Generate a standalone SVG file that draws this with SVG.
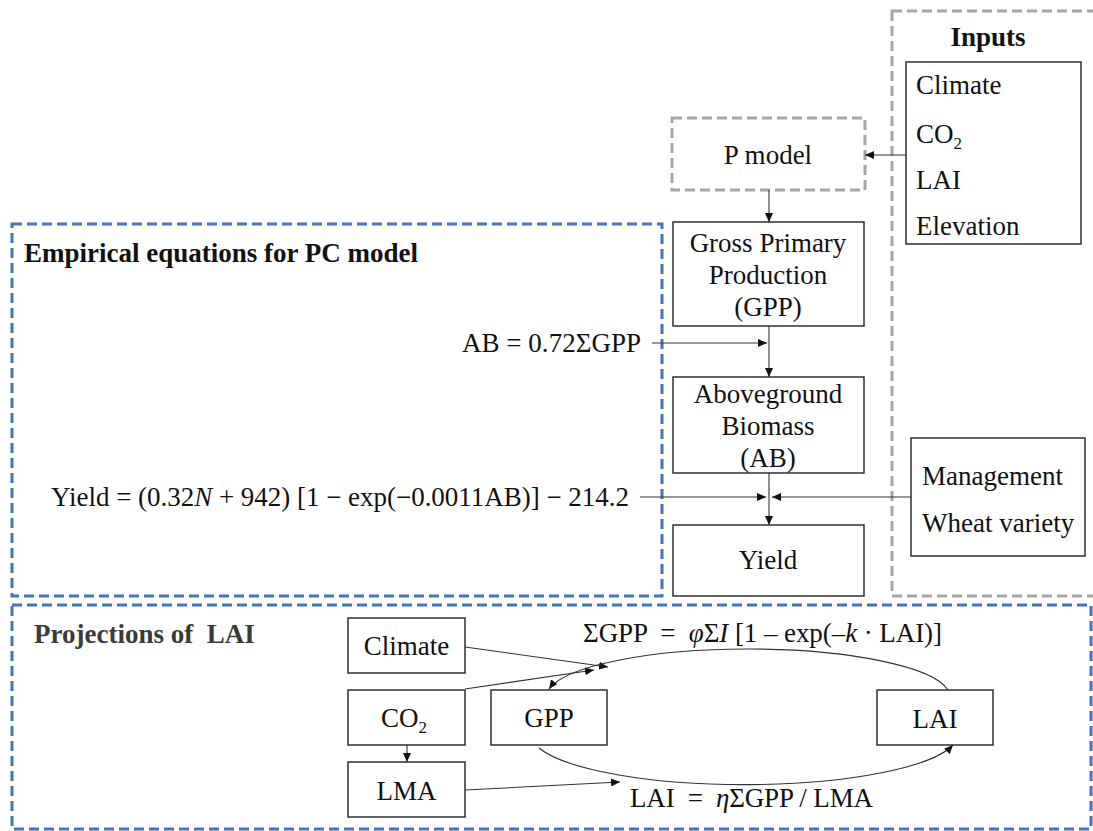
<svg xmlns="http://www.w3.org/2000/svg" width="1093" height="831" viewBox="0 0 1093 831">
<defs>
<style>
.t{font-family:"Liberation Serif","Times New Roman",serif;font-size:27px;fill:#111;white-space:pre}
.b{font-weight:bold}
.c{text-anchor:middle}
.box{fill:#fff;stroke:#222;stroke-width:1.4}
.gd{fill:none;stroke:#a6a6a6;stroke-width:3;stroke-dasharray:10 5}
.bd{fill:none;stroke:#4472c4;stroke-width:3;stroke-dasharray:10 5}
.ln{fill:none;stroke:#333;stroke-width:1.1}
</style>
<marker id="ah" markerUnits="userSpaceOnUse" markerWidth="10" markerHeight="8" refX="9" refY="4" orient="auto">
<path d="M0,0 L9,4 L0,8 z" fill="#111"/>
</marker>
</defs>
<rect width="1093" height="831" fill="#fff"/>

<g id="frames">
<rect class="gd" x="892" y="11" width="230" height="585"/>
<rect class="bd" x="12" y="224" width="650" height="372"/>
<rect class="bd" x="12" y="605" width="1079" height="224"/>
</g>

<g id="inputs">
<text class="t b c" x="988" y="46">Inputs</text>
<rect class="box" x="906" y="62" width="175" height="182"/>
<text class="t" x="916" y="94">Climate</text>
<text class="t" x="916" y="143">CO<tspan font-size="17" dy="6">2</tspan></text>
<text class="t" x="916" y="189">LAI</text>
<text class="t" x="916" y="235">Elevation</text>
</g>

<g id="pmodel">
<rect class="gd" x="672" y="118" width="193" height="72"/>
<text class="t c" x="768" y="164">P model</text>
</g>

<g id="gpp">
<rect class="box" x="673" y="222" width="191" height="104"/>
<text class="t c" x="768" y="252">Gross Primary</text>
<text class="t c" x="768" y="284">Production</text>
<text class="t c" x="768" y="316">(GPP)</text>
</g>

<g id="ab">
<rect class="box" x="673" y="377" width="191" height="96"/>
<text class="t c" x="768" y="403">Aboveground</text>
<text class="t c" x="768" y="435">Biomass</text>
<text class="t c" x="768" y="467">(AB)</text>
</g>

<g id="yield">
<rect class="box" x="673" y="525" width="191" height="71"/>
<text class="t c" x="768" y="569">Yield</text>
</g>

<g id="management">
<rect class="box" x="911" y="438" width="174" height="118"/>
<text class="t" x="922" y="485">Management</text>
<text class="t" x="922" y="532">Wheat variety</text>
</g>

<g id="empirical">
<text class="t b" x="24" y="262" textLength="394" lengthAdjust="spacingAndGlyphs">Empirical equations for PC model</text>
<text class="t" x="462" y="352" textLength="179" lengthAdjust="spacing">AB = 0.72ΣGPP</text>
<text class="t" x="51" y="506" textLength="578" lengthAdjust="spacing">Yield = (0.32<tspan font-style="italic">N</tspan> + 942) [1 − exp(−0.0011AB)] − 214.2</text>
</g>

<g id="projections">
<text class="t b" x="34" y="643" style="fill:#3a3a3a" xml:space="preserve">Projections of  LAI</text>
<text class="t" x="583" y="642" textLength="359" lengthAdjust="spacing" xml:space="preserve">ΣGPP  =  <tspan font-style="italic">φ</tspan>Σ<tspan font-style="italic">I</tspan> [1 – exp(–<tspan font-style="italic">k</tspan> · LAI)]</text>
<text class="t" x="630" y="807" textLength="243" lengthAdjust="spacing" xml:space="preserve">LAI  =  <tspan font-style="italic">η</tspan>ΣGPP / LMA</text>
</g>

<g id="n-climate">
<rect class="box" x="348" y="618" width="117" height="55"/>
<text class="t c" x="406.5" y="655">Climate</text>
</g>
<g id="n-co2">
<rect class="box" x="348" y="690" width="117" height="55"/>
<text class="t c" x="404" y="727">CO<tspan font-size="17" dy="6">2</tspan></text>
</g>
<g id="n-lma">
<rect class="box" x="348" y="762" width="117" height="55"/>
<text class="t c" x="406.5" y="800">LMA</text>
</g>
<g id="n-gpp">
<rect class="box" x="491" y="690" width="116" height="55"/>
<text class="t c" x="549" y="727">GPP</text>
</g>
<g id="n-lai">
<rect class="box" x="877" y="690" width="116" height="55"/>
<text class="t c" x="935" y="728">LAI</text>
</g>

<g id="connectors">
<line class="ln" x1="906" y1="155" x2="865" y2="155" marker-end="url(#ah)"/>
<line class="ln" x1="769" y1="190" x2="769" y2="222" marker-end="url(#ah)"/>
<line class="ln" x1="769" y1="326" x2="769" y2="377" marker-end="url(#ah)"/>
<line class="ln" x1="652" y1="343" x2="767" y2="343" marker-end="url(#ah)"/>
<line class="ln" x1="769" y1="473" x2="769" y2="525" marker-end="url(#ah)"/>
<line class="ln" x1="640" y1="497" x2="766" y2="497" marker-end="url(#ah)"/>
<line class="ln" x1="911" y1="497" x2="772" y2="497" marker-end="url(#ah)"/>
<line class="ln" x1="407" y1="745" x2="407" y2="762" marker-end="url(#ah)"/>
<line class="ln" x1="465" y1="647" x2="608" y2="667" marker-end="url(#ah)"/>
<line class="ln" x1="465" y1="689" x2="594" y2="670" marker-end="url(#ah)"/>
<line class="ln" x1="465" y1="790" x2="620" y2="782" marker-end="url(#ah)"/>
<path class="ln" d="M948,690 A202,48 0 0 0 549,689" marker-end="url(#ah)"/>
<path class="ln" d="M539,748 A214,51 0 0 0 953,745" marker-end="url(#ah)"/>
</g>
</svg>
